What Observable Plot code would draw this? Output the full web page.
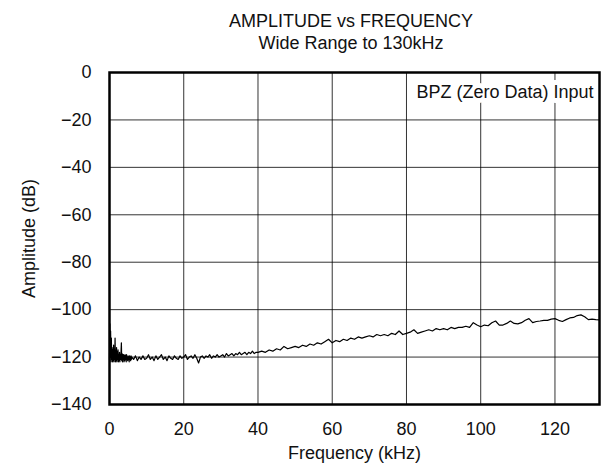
<!DOCTYPE html>
<html>
<head>
<meta charset="utf-8">
<script src="https://cdn.jsdelivr.net/npm/d3@7"></script>
<script src="https://cdn.jsdelivr.net/npm/@observablehq/plot@0.6"></script>
<style>
  html, body { margin: 0; padding: 0; background: #fff; }
  body { width: 602px; height: 468px; overflow: hidden; font-family: "Liberation Sans", Arial, Helvetica, sans-serif; }
  #title { height: 55px; box-sizing: border-box; padding-top: 10px; padding-left: 100px; text-align: center; font-size: 18px; line-height: 22px; color: #111; }
  svg { display: block; }
</style>
</head>
<body>
<div id="title"><div>AMPLITUDE vs FREQUENCY</div><div>Wide Range to 130kHz</div></div>
<div id="chart"></div>
<script>
// Segment A: 0–6 kHz (0.1 kHz bins)
const freqA = [0.0,0.1,0.2,0.3,0.4,0.5,0.6,0.7,0.8,0.9,1.0,1.1,1.2,1.3,1.4,1.5,1.6,1.7,1.8,1.9,2.0,2.1,2.2,2.3,2.4,2.5,2.6,2.7,2.8,2.9,3.0,3.1,3.2,3.3,3.4,3.5,3.6,3.7,3.8,3.9,4.0,4.1,4.2,4.3,4.4,4.5,4.6,4.7,4.8,4.9,5.0,5.1,5.2,5.3,5.4,5.5,5.6,5.7,5.8,5.9,6.0];
const ampA = [-121,-106,-120,-109,-122,-112,-121,-116,-122,-117,-121.5,-115,-122,-117,-121,-112,-122,-118,-121.5,-116,-122,-118,-121,-117,-122,-119,-121.5,-118,-122,-119,-121,-118,-114,-121.5,-118.5,-122,-119,-121,-119,-122,-119.5,-121.5,-119,-121,-119.5,-122,-119,-121,-120,-121.5,-119.5,-121,-120,-122,-119.5,-121,-120,-121.5,-119.5,-121,-120];
// Segment B: 6.5–40 kHz (0.5 kHz bins)
const freqB = [6.5,7,7.5,8,8.5,9,9.5,10,10.5,11,11.5,12,12.5,13,13.5,14,14.5,15,15.5,16,16.5,17,17.5,18,18.5,19,19.5,20,20.5,21,21.5,22,22.5,23,23.5,24,24.5,25,25.5,26,26.5,27,27.5,28,28.5,29,29.5,30,30.5,31,31.5,32,32.5,33,33.5,34,34.5,35,35.5,36,36.5,37,37.5,38,38.5,39,39.5,40];
const ampB = [-121,-119.5,-121.5,-120,-121,-119.5,-121,-120.5,-119,-121,-120,-121.5,-119.5,-121,-120,-119,-121,-120,-121.5,-119.5,-120.5,-121,-119.5,-120.5,-121,-119.5,-120.5,-120,-119,-121,-120,-119.5,-120.5,-119,-120.5,-122.5,-120,-119.5,-120.5,-119.5,-120,-119,-120.5,-119.5,-120,-119,-120,-119.5,-119,-120,-118.5,-119.5,-119,-118.5,-119.5,-118.5,-119,-118,-119,-118.5,-118,-119,-118,-118.5,-117.5,-118.5,-118,-118];
// Segment C: 41–132 kHz (1 kHz bins)
const freqC = [41,42,43,44,45,46,47,48,49,50,51,52,53,54,55,56,57,58,59,60,61,62,63,64,65,66,67,68,69,70,71,72,73,74,75,76,77,78,79,80,81,82,83,84,85,86,87,88,89,90,91,92,93,94,95,96,97,98,99,100,101,102,103,104,105,106,107,108,109,110,111,112,113,114,115,116,117,118,119,120,121,122,123,124,125,126,127,128,129,130,131,132];
const ampC = [-117.5,-118,-117,-117.5,-116.5,-117,-115.5,-116.5,-116,-115.5,-116,-115,-115.5,-114.5,-115,-114,-114.5,-113.5,-112.5,-114,-113,-113.5,-112.5,-113,-112,-112.5,-111.5,-112,-111.5,-111,-111.5,-110.5,-111,-110.5,-111,-110,-110.5,-109,-110.5,-110,-109.5,-108.5,-110,-109.5,-109,-108.5,-109,-108,-108.5,-108,-108.5,-107.5,-108,-107.5,-107.5,-107,-107.5,-105.5,-106.5,-107.2,-106.5,-106.8,-105.5,-104.8,-106.5,-106.5,-105.8,-104.8,-105.8,-106,-105.5,-104.5,-103.8,-105.5,-105,-104.8,-104.5,-104.5,-104,-103.8,-104.5,-105,-104.2,-103.5,-103.3,-102.5,-102.2,-103,-104.2,-104,-104.2,-104.3];

const xTicks = [0, 20, 40, 60, 80, 100, 120];
const yTicks = [0, -20, -40, -60, -80, -100, -120, -140];
const legendText = ["BPZ (Zero Data) Input"];

const freqs = [...freqA, ...freqB, ...freqC];
const amps = [...ampA, ...ampB, ...ampC];
const data = freqs.map((f, i) => ({ f, a: amps[i] }));

const fmt = d => d < 0 ? "\u2212" + Math.abs(d) : String(d);

const chart = Plot.plot({
  width: 602,
  height: 413,
  marginTop: 17,
  marginBottom: 64,
  marginLeft: 109,
  marginRight: 3,
  style: { fontFamily: "'Liberation Sans', Arial, Helvetica, sans-serif", fontSize: "18px", color: "#111", background: "#fff" },
  x: { domain: [0, 132], ticks: xTicks, tickSize: 0, tickPadding: 18, label: "Frequency (kHz)", labelAnchor: "center", labelArrow: "none", labelOffset: 54 },
  y: { domain: [-140, 0], ticks: yTicks, tickSize: 0, tickPadding: 18, tickFormat: fmt, label: "Amplitude (dB)", labelAnchor: "center", labelArrow: "none", labelOffset: 87 },
  marks: [
    Plot.gridX(xTicks, { stroke: "#000", strokeOpacity: 0.8, strokeWidth: 1 }),
    Plot.gridY(yTicks, { stroke: "#000", strokeOpacity: 0.8, strokeWidth: 1 }),
    Plot.line(data, { x: "f", y: "a", stroke: "#000", strokeWidth: 1.2, curve: "linear" }),
    Plot.text(legendText, { frameAnchor: "top-right", text: d => d, textAnchor: "end", lineAnchor: "top", dx: -6, dy: 13, fill: "#111", stroke: "#fff", strokeWidth: 10, fontSize: 18 }),
    Plot.frame({ stroke: "#000", strokeWidth: 2.5 })
  ]
});
document.getElementById("chart").appendChild(chart);
</script>
</body>
</html>
